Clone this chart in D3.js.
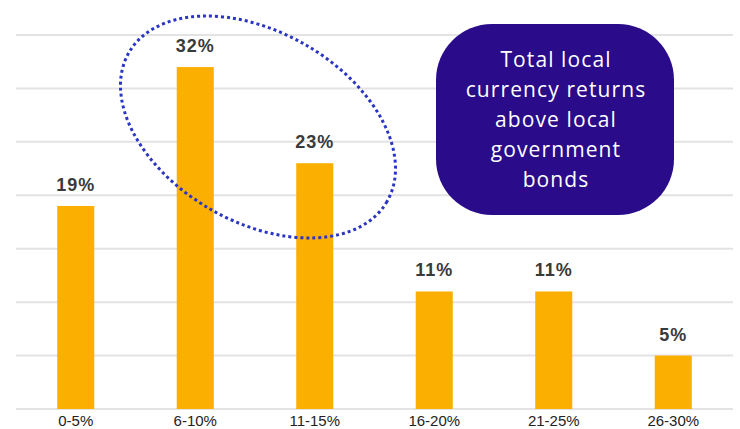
<!DOCTYPE html>
<html>
<head>
<meta charset="utf-8">
<script src="https://cdn.jsdelivr.net/npm/d3@7"></script>
<style>
  html, body { margin: 0; padding: 0; background: #fff; }
  svg { display: block; }
</style>
</head>
<body>
<svg id="chart" width="740" height="429"></svg>
<script>
// Return bands and share of markets in each
const categories = ["0-5%", "6-10%", "11-15%", "16-20%", "21-25%", "26-30%"];
const shares = [19, 32, 23, 11, 11, 5];
const gridTicks = [0, 5, 10, 15, 20, 25, 30, 35];
const noteLines = ["Total local", "currency returns", "above local", "government", "bonds"];

const svg = d3.select("#chart");
const plotLeft = 16, plotRight = 733, plotTop = 35, plotBottom = 409;

const x = d3.scaleBand()
  .domain(categories)
  .range([plotLeft, plotRight])
  .paddingInner(0.69)
  .paddingOuter(0.345);

const y = d3.scaleLinear()
  .domain([0, 35])
  .range([plotBottom, plotTop]);

// horizontal gridlines
svg.append("g")
  .selectAll("line")
  .data(gridTicks)
  .join("line")
  .attr("x1", plotLeft)
  .attr("x2", plotRight)
  .attr("y1", d => y(d))
  .attr("y2", d => y(d))
  .attr("stroke", "#e3e3e3")
  .attr("stroke-width", 2);

// bars
svg.append("g")
  .selectAll("rect")
  .data(shares)
  .join("rect")
  .attr("x", (d, i) => x(categories[i]))
  .attr("y", d => y(d))
  .attr("width", x.bandwidth())
  .attr("height", d => y(0) - y(d))
  .attr("fill", "#fbaf00");

// value labels
svg.append("g")
  .selectAll("text")
  .data(shares)
  .join("text")
  .attr("x", (d, i) => x(categories[i]) + x.bandwidth() / 2)
  .attr("y", d => y(d) - 15)
  .attr("text-anchor", "middle")
  .attr("font-family", "Liberation Sans, Arial, sans-serif")
  .attr("font-weight", "bold")
  .attr("font-size", 18)
  .attr("letter-spacing", 1)
  .attr("fill", "#3a3a3a")
  .text(d => d + "%");

// category axis
const axis = svg.append("g")
  .attr("transform", `translate(0,${plotBottom})`)
  .call(d3.axisBottom(x).tickSize(0).tickPadding(0));
axis.select(".domain").remove();
axis.selectAll("text")
  .attr("y", 17)
  .attr("dy", 0)
  .attr("font-family", "Liberation Sans, Arial, sans-serif")
  .attr("font-size", 15)
  .attr("fill", "#222");

// dotted highlight around the two tallest bars
svg.append("ellipse")
  .attr("cx", 258)
  .attr("cy", 127)
  .attr("rx", 149)
  .attr("ry", 95)
  .attr("transform", "rotate(30,258,127)")
  .attr("fill", "none")
  .attr("stroke", "#2b35c4")
  .attr("stroke-width", 3)
  .attr("stroke-dasharray", "3,3");

// note box
const note = svg.append("g");
note.append("rect")
  .attr("x", 436)
  .attr("y", 24)
  .attr("width", 238)
  .attr("height", 191)
  .attr("rx", 56)
  .attr("ry", 56)
  .attr("fill", "#2a0b89");
note.append("text")
  .attr("text-anchor", "middle")
  .attr("font-family", "'Open Sans', sans-serif")
  .attr("font-size", 21)
  .attr("letter-spacing", 1.1)
  .attr("fill", "#fff")
  .selectAll("tspan")
  .data(noteLines)
  .join("tspan")
  .attr("x", 556)
  .attr("y", (d, i) => 67 + i * 30)
  .text(d => d);
</script>
</body>
</html>
